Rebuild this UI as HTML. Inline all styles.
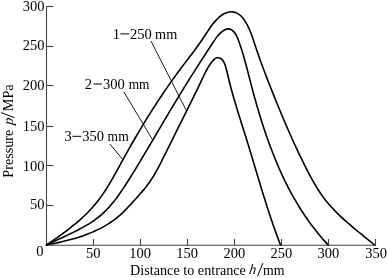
<!DOCTYPE html>
<html><head><meta charset="utf-8"><style>
html,body{margin:0;padding:0;background:#fff;}
body{width:388px;height:278px;position:relative;overflow:hidden;}
svg{position:absolute;left:0;top:0;will-change:transform;font-family:"Liberation Serif",serif;font-kerning:none;}
text{fill:#000;}
.ax{stroke:#444;stroke-width:1.1;fill:none;}
.cv{stroke:#000;stroke-width:1.6;fill:none;stroke-linejoin:round;stroke-linecap:round;}
.ld{stroke:#000;stroke-width:0.9;}
.dash{stroke:#000;stroke-width:1.0;}
.sl{stroke:#000;stroke-width:1.0;}
</style></head><body>
<svg width="388" height="278" viewBox="0 0 388 278">
<line x1="46.5" y1="6" x2="46.5" y2="245.8" class="ax"/>
<line x1="46" y1="245.3" x2="376" y2="245.3" class="ax"/>
<line x1="46.5" y1="205.50" x2="53.5" y2="205.50" class="ax"/>
<line x1="46.5" y1="165.50" x2="53.5" y2="165.50" class="ax"/>
<line x1="46.5" y1="126.50" x2="53.5" y2="126.50" class="ax"/>
<line x1="46.5" y1="85.50" x2="53.5" y2="85.50" class="ax"/>
<line x1="46.5" y1="46.50" x2="53.5" y2="46.50" class="ax"/>
<line x1="46.5" y1="6.50" x2="53.5" y2="6.50" class="ax"/>
<line x1="93.50" y1="245.30" x2="93.50" y2="239" class="ax"/>
<line x1="140.50" y1="245.30" x2="140.50" y2="239" class="ax"/>
<line x1="187.50" y1="245.30" x2="187.50" y2="239" class="ax"/>
<line x1="234.50" y1="245.30" x2="234.50" y2="239" class="ax"/>
<line x1="281.50" y1="245.30" x2="281.50" y2="239" class="ax"/>
<line x1="328.50" y1="245.30" x2="328.50" y2="239" class="ax"/>
<line x1="375.50" y1="245.30" x2="375.50" y2="239" class="ax"/>
<path d="M46.49 244.99 C47.83 244.08 49.17 243.16 50.50 242.24 C51.84 241.31 53.18 240.38 54.52 239.45 C55.86 238.51 57.19 237.57 58.52 236.62 C59.86 235.66 61.19 234.70 62.51 233.73 C63.83 232.76 65.15 231.78 66.46 230.79 C67.77 229.80 69.07 228.80 70.36 227.79 C71.65 226.78 72.93 225.75 74.20 224.71 C75.47 223.67 76.72 222.62 77.96 221.56 C79.20 220.49 80.43 219.41 81.64 218.31 C82.85 217.22 84.04 216.10 85.21 214.97 C86.38 213.85 87.54 212.70 88.67 211.53 C89.80 210.37 90.91 209.19 92.00 207.99 C93.08 206.78 94.15 205.56 95.18 204.32 C96.22 203.08 97.23 201.81 98.22 200.53 C99.20 199.25 100.17 197.95 101.11 196.63 C102.05 195.31 102.97 193.98 103.88 192.63 C104.78 191.28 105.67 189.92 106.54 188.54 C107.41 187.17 108.26 185.78 109.10 184.38 C109.95 182.98 110.77 181.57 111.59 180.16 C112.41 178.74 113.22 177.32 114.03 175.89 C114.83 174.46 115.63 173.03 116.42 171.59 C117.21 170.15 118.00 168.71 118.78 167.27 C119.57 165.83 120.36 164.39 121.14 162.94 C121.93 161.50 122.72 160.06 123.51 158.62 C124.30 157.19 125.09 155.75 125.89 154.32 C126.69 152.88 127.49 151.45 128.29 150.02 C129.10 148.60 129.91 147.17 130.72 145.75 C131.53 144.32 132.34 142.90 133.16 141.49 C133.98 140.07 134.80 138.65 135.62 137.24 C136.45 135.83 137.27 134.42 138.11 133.01 C138.94 131.60 139.77 130.20 140.61 128.80 C141.45 127.39 142.29 125.99 143.14 124.60 C143.99 123.20 144.84 121.81 145.69 120.42 C146.55 119.03 147.41 117.64 148.27 116.26 C149.13 114.87 150.00 113.49 150.87 112.11 C151.74 110.73 152.62 109.36 153.50 107.98 C154.38 106.61 155.26 105.24 156.15 103.87 C157.04 102.51 157.94 101.14 158.83 99.78 C159.73 98.42 160.63 97.07 161.54 95.71 C162.45 94.36 163.36 93.01 164.28 91.66 C165.20 90.31 166.12 88.97 167.04 87.63 C167.97 86.29 168.90 84.95 169.84 83.62 C170.78 82.28 171.72 80.95 172.66 79.62 C173.61 78.30 174.56 76.97 175.52 75.65 C176.48 74.33 177.44 73.02 178.41 71.70 C179.38 70.39 180.35 69.08 181.33 67.77 C182.31 66.47 183.29 65.17 184.28 63.86 C185.26 62.56 186.25 61.26 187.24 59.96 C188.23 58.66 189.22 57.36 190.20 56.06 C191.19 54.76 192.18 53.46 193.15 52.15 C194.13 50.84 195.11 49.53 196.07 48.22 C197.04 46.90 198.00 45.58 198.95 44.26 C199.90 42.93 200.84 41.59 201.77 40.25 C202.69 38.91 203.61 37.56 204.51 36.20 C205.41 34.84 206.29 33.46 207.18 32.10 C208.07 30.73 208.96 29.36 209.88 28.02 C210.81 26.68 211.75 25.36 212.75 24.07 C213.75 22.79 214.80 21.54 215.92 20.35 C217.04 19.15 218.23 18.01 219.51 16.94 C220.79 15.87 222.16 14.88 223.59 14.05 C225.02 13.23 226.52 12.57 228.05 12.18 C229.58 11.78 231.14 11.65 232.72 11.85 C234.29 12.06 235.86 12.59 237.32 13.35 C238.78 14.11 240.11 15.11 241.28 16.26 C242.45 17.41 243.48 18.71 244.41 20.09 C245.34 21.46 246.18 22.89 246.96 24.34 C247.73 25.78 248.45 27.25 249.11 28.74 C249.77 30.23 250.39 31.73 250.97 33.25 C251.55 34.77 252.09 36.30 252.62 37.84 C253.15 39.38 253.67 40.92 254.18 42.47 C254.69 44.02 255.20 45.57 255.71 47.11 C256.23 48.66 256.76 50.20 257.29 51.75 C257.82 53.29 258.36 54.83 258.90 56.37 C259.44 57.91 259.99 59.45 260.55 60.99 C261.10 62.53 261.66 64.07 262.22 65.60 C262.79 67.14 263.36 68.67 263.93 70.21 C264.50 71.74 265.08 73.27 265.66 74.80 C266.25 76.33 266.83 77.86 267.42 79.39 C268.01 80.92 268.61 82.44 269.20 83.97 C269.80 85.49 270.40 87.02 271.00 88.54 C271.61 90.06 272.21 91.58 272.82 93.10 C273.43 94.62 274.04 96.14 274.66 97.66 C275.27 99.18 275.89 100.69 276.50 102.21 C277.12 103.72 277.74 105.23 278.36 106.75 C278.99 108.26 279.61 109.77 280.24 111.28 C280.86 112.78 281.49 114.29 282.13 115.80 C282.76 117.30 283.40 118.81 284.03 120.31 C284.67 121.81 285.32 123.31 285.96 124.81 C286.61 126.31 287.26 127.81 287.91 129.30 C288.56 130.80 289.22 132.29 289.88 133.78 C290.54 135.28 291.20 136.77 291.87 138.25 C292.54 139.74 293.22 141.23 293.89 142.71 C294.57 144.20 295.25 145.68 295.94 147.16 C296.63 148.64 297.32 150.12 298.02 151.59 C298.72 153.07 299.42 154.54 300.13 156.02 C300.83 157.49 301.55 158.96 302.27 160.42 C302.99 161.89 303.71 163.36 304.44 164.82 C305.17 166.28 305.91 167.74 306.65 169.20 C307.40 170.66 308.15 172.11 308.91 173.56 C309.66 175.01 310.43 176.46 311.21 177.89 C312.00 179.33 312.79 180.76 313.60 182.18 C314.41 183.60 315.23 185.01 316.08 186.40 C316.92 187.80 317.78 189.18 318.66 190.55 C319.55 191.91 320.45 193.27 321.38 194.60 C322.31 195.93 323.26 197.25 324.24 198.54 C325.22 199.84 326.23 201.11 327.27 202.36 C328.30 203.61 329.36 204.85 330.45 206.06 C331.53 207.28 332.63 208.48 333.76 209.66 C334.89 210.84 336.03 212.00 337.19 213.15 C338.36 214.30 339.54 215.44 340.73 216.56 C341.93 217.69 343.14 218.80 344.36 219.90 C345.58 220.99 346.81 222.08 348.05 223.16 C349.29 224.24 350.54 225.31 351.80 226.37 C353.06 227.43 354.32 228.48 355.59 229.53 C356.85 230.58 358.12 231.62 359.39 232.66 C360.66 233.69 361.93 234.73 363.20 235.76 C364.47 236.79 365.74 237.81 367.00 238.84 C368.26 239.87 369.52 240.89 370.77 241.92 C372.02 242.95 373.26 243.97 374.49 245.00" class="cv"/>
<path d="M46.51 245.00 C47.80 244.35 49.11 243.71 50.43 243.08 C51.75 242.44 53.08 241.81 54.42 241.18 C55.76 240.55 57.11 239.93 58.47 239.30 C59.82 238.67 61.19 238.05 62.55 237.42 C63.91 236.79 65.28 236.16 66.64 235.52 C68.01 234.88 69.37 234.24 70.74 233.58 C72.10 232.93 73.46 232.27 74.81 231.60 C76.16 230.93 77.50 230.24 78.84 229.55 C80.18 228.85 81.50 228.14 82.81 227.41 C84.13 226.68 85.43 225.94 86.71 225.18 C88.00 224.41 89.27 223.63 90.52 222.83 C91.77 222.02 93.00 221.19 94.21 220.34 C95.42 219.49 96.61 218.61 97.77 217.71 C98.93 216.80 100.07 215.87 101.18 214.91 C102.30 213.95 103.38 212.95 104.44 211.93 C105.50 210.92 106.53 209.87 107.54 208.80 C108.56 207.73 109.55 206.64 110.52 205.53 C111.49 204.41 112.43 203.28 113.37 202.12 C114.30 200.97 115.21 199.80 116.11 198.61 C117.01 197.42 117.89 196.22 118.76 195.01 C119.63 193.79 120.48 192.56 121.33 191.32 C122.17 190.09 123.01 188.84 123.83 187.58 C124.66 186.33 125.48 185.07 126.29 183.80 C127.10 182.54 127.90 181.27 128.70 179.99 C129.50 178.72 130.29 177.45 131.08 176.18 C131.88 174.90 132.67 173.63 133.45 172.36 C134.24 171.08 135.02 169.81 135.80 168.53 C136.58 167.25 137.35 165.98 138.13 164.70 C138.90 163.42 139.67 162.14 140.44 160.87 C141.21 159.59 141.98 158.31 142.74 157.03 C143.51 155.75 144.27 154.47 145.03 153.19 C145.80 151.91 146.56 150.63 147.31 149.35 C148.07 148.07 148.83 146.79 149.59 145.51 C150.34 144.23 151.10 142.95 151.85 141.67 C152.61 140.39 153.36 139.11 154.12 137.83 C154.87 136.55 155.62 135.27 156.38 133.98 C157.13 132.70 157.88 131.42 158.63 130.14 C159.39 128.86 160.14 127.58 160.89 126.30 C161.65 125.02 162.40 123.74 163.16 122.46 C163.91 121.18 164.67 119.90 165.43 118.62 C166.18 117.34 166.94 116.07 167.70 114.79 C168.46 113.51 169.22 112.23 169.98 110.95 C170.75 109.68 171.51 108.40 172.28 107.12 C173.04 105.85 173.81 104.57 174.58 103.30 C175.35 102.02 176.12 100.75 176.90 99.48 C177.67 98.20 178.44 96.93 179.22 95.66 C180.00 94.38 180.78 93.11 181.56 91.84 C182.34 90.57 183.12 89.30 183.90 88.03 C184.69 86.76 185.47 85.50 186.26 84.23 C187.04 82.96 187.83 81.69 188.62 80.43 C189.41 79.16 190.21 77.90 191.00 76.64 C191.80 75.37 192.59 74.11 193.39 72.85 C194.19 71.59 194.98 70.33 195.79 69.07 C196.59 67.81 197.39 66.55 198.19 65.29 C199.00 64.03 199.80 62.78 200.61 61.52 C201.42 60.27 202.23 59.01 203.04 57.76 C203.85 56.51 204.66 55.26 205.48 54.01 C206.29 52.76 207.11 51.51 207.93 50.26 C208.74 49.01 209.56 47.77 210.38 46.52 C211.20 45.28 212.03 44.03 212.85 42.79 C213.68 41.55 214.50 40.31 215.35 39.09 C216.20 37.87 217.08 36.67 218.04 35.54 C219.00 34.41 220.03 33.33 221.17 32.35 C222.31 31.37 223.58 30.44 224.94 29.75 C226.30 29.07 227.73 28.67 229.12 28.89 C230.51 29.11 231.84 29.93 232.92 30.88 C234.01 31.82 234.90 32.96 235.67 34.23 C236.45 35.50 237.09 36.89 237.67 38.32 C238.26 39.76 238.78 41.23 239.30 42.69 C239.81 44.15 240.31 45.60 240.79 47.05 C241.26 48.50 241.73 49.95 242.17 51.39 C242.62 52.83 243.05 54.27 243.47 55.70 C243.89 57.14 244.30 58.57 244.69 60.00 C245.09 61.43 245.48 62.86 245.86 64.29 C246.25 65.72 246.62 67.14 246.99 68.57 C247.36 69.99 247.73 71.41 248.10 72.84 C248.46 74.26 248.83 75.68 249.19 77.11 C249.56 78.53 249.92 79.96 250.29 81.38 C250.66 82.81 251.04 84.23 251.41 85.66 C251.79 87.09 252.17 88.52 252.55 89.94 C252.93 91.37 253.32 92.80 253.71 94.23 C254.10 95.66 254.50 97.09 254.90 98.52 C255.29 99.95 255.70 101.38 256.10 102.81 C256.51 104.24 256.92 105.66 257.34 107.09 C257.75 108.52 258.17 109.95 258.60 111.38 C259.03 112.80 259.46 114.23 259.89 115.65 C260.33 117.08 260.77 118.50 261.21 119.93 C261.66 121.35 262.11 122.77 262.56 124.19 C263.02 125.61 263.48 127.03 263.95 128.45 C264.42 129.87 264.89 131.28 265.37 132.70 C265.85 134.11 266.33 135.52 266.83 136.93 C267.32 138.34 267.82 139.75 268.32 141.15 C268.82 142.56 269.34 143.96 269.85 145.36 C270.37 146.76 270.90 148.16 271.43 149.55 C271.96 150.95 272.50 152.34 273.04 153.73 C273.59 155.11 274.14 156.50 274.70 157.88 C275.26 159.26 275.83 160.64 276.40 162.02 C276.98 163.39 277.56 164.76 278.15 166.13 C278.74 167.50 279.34 168.86 279.95 170.22 C280.56 171.58 281.17 172.94 281.80 174.29 C282.42 175.64 283.05 176.98 283.69 178.33 C284.33 179.67 284.98 181.01 285.64 182.34 C286.30 183.67 286.97 185.00 287.65 186.32 C288.32 187.65 289.01 188.96 289.70 190.28 C290.40 191.59 291.10 192.90 291.82 194.20 C292.53 195.50 293.25 196.80 293.99 198.09 C294.72 199.38 295.47 200.66 296.22 201.94 C296.97 203.22 297.74 204.49 298.51 205.76 C299.28 207.03 300.07 208.29 300.86 209.54 C301.66 210.79 302.47 212.04 303.28 213.28 C304.10 214.52 304.93 215.76 305.76 216.98 C306.60 218.21 307.45 219.43 308.31 220.64 C309.17 221.86 310.05 223.06 310.93 224.26 C311.81 225.46 312.71 226.65 313.62 227.83 C314.52 229.01 315.44 230.19 316.37 231.36 C317.31 232.52 318.25 233.68 319.20 234.84 C320.16 235.99 321.13 237.13 322.11 238.26 C323.09 239.40 324.08 240.53 325.09 241.64 C326.09 242.76 327.11 243.87 328.14 244.97" class="cv"/>
<path d="M46.50 244.99 C47.77 244.74 49.06 244.49 50.34 244.23 C51.62 243.98 52.90 243.71 54.19 243.45 C55.47 243.18 56.75 242.90 58.04 242.62 C59.32 242.34 60.60 242.05 61.88 241.75 C63.17 241.45 64.45 241.14 65.72 240.82 C67.00 240.51 68.28 240.18 69.55 239.84 C70.82 239.50 72.09 239.16 73.36 238.80 C74.62 238.44 75.88 238.06 77.14 237.68 C78.39 237.30 79.64 236.90 80.89 236.49 C82.13 236.08 83.37 235.65 84.60 235.21 C85.83 234.77 87.05 234.31 88.27 233.84 C89.49 233.37 90.69 232.88 91.89 232.38 C93.09 231.87 94.28 231.35 95.46 230.81 C96.64 230.27 97.82 229.71 98.98 229.14 C100.14 228.56 101.29 227.96 102.42 227.35 C103.56 226.73 104.69 226.09 105.80 225.43 C106.91 224.77 108.02 224.09 109.10 223.39 C110.19 222.69 111.27 221.96 112.33 221.21 C113.39 220.46 114.43 219.69 115.46 218.89 C116.49 218.10 117.51 217.28 118.50 216.43 C119.50 215.58 120.48 214.71 121.45 213.81 C122.42 212.91 123.37 212.00 124.31 211.06 C125.25 210.13 126.18 209.18 127.10 208.22 C128.02 207.25 128.92 206.28 129.82 205.30 C130.73 204.32 131.62 203.34 132.51 202.36 C133.40 201.37 134.28 200.39 135.16 199.41 C136.04 198.43 136.92 197.45 137.79 196.48 C138.66 195.51 139.53 194.54 140.39 193.56 C141.25 192.59 142.09 191.61 142.93 190.63 C143.76 189.64 144.59 188.65 145.39 187.64 C146.20 186.63 146.99 185.62 147.75 184.58 C148.52 183.55 149.27 182.49 150.00 181.43 C150.73 180.36 151.44 179.27 152.14 178.18 C152.84 177.08 153.52 175.97 154.18 174.85 C154.85 173.73 155.50 172.60 156.15 171.46 C156.79 170.32 157.42 169.17 158.04 168.01 C158.66 166.85 159.28 165.69 159.88 164.52 C160.49 163.35 161.09 162.18 161.68 161.00 C162.28 159.82 162.87 158.64 163.46 157.46 C164.05 156.28 164.63 155.10 165.22 153.92 C165.81 152.73 166.39 151.55 166.98 150.37 C167.57 149.19 168.15 148.01 168.74 146.84 C169.33 145.66 169.91 144.48 170.50 143.31 C171.09 142.13 171.67 140.95 172.26 139.78 C172.85 138.60 173.43 137.43 174.02 136.26 C174.61 135.08 175.19 133.91 175.78 132.74 C176.36 131.57 176.95 130.39 177.53 129.22 C178.12 128.05 178.71 126.88 179.29 125.71 C179.87 124.54 180.46 123.37 181.04 122.20 C181.63 121.03 182.21 119.86 182.79 118.69 C183.37 117.52 183.96 116.35 184.54 115.18 C185.12 114.01 185.70 112.85 186.28 111.68 C186.86 110.51 187.44 109.34 188.02 108.17 C188.60 107.00 189.18 105.83 189.75 104.66 C190.33 103.49 190.91 102.32 191.48 101.15 C192.06 99.98 192.63 98.82 193.21 97.64 C193.78 96.47 194.35 95.30 194.92 94.13 C195.49 92.96 196.06 91.79 196.63 90.62 C197.20 89.45 197.77 88.28 198.34 87.10 C198.90 85.93 199.47 84.76 200.03 83.58 C200.60 82.41 201.16 81.24 201.72 80.06 C202.29 78.88 202.85 77.71 203.40 76.53 C203.96 75.35 204.52 74.18 205.09 73.00 C205.66 71.83 206.25 70.66 206.87 69.50 C207.49 68.34 208.15 67.20 208.86 66.07 C209.58 64.94 210.35 63.82 211.19 62.73 C212.03 61.64 212.96 60.55 213.94 59.66 C214.93 58.77 215.98 58.09 217.07 57.81 C218.16 57.53 219.31 57.73 220.40 58.31 C221.49 58.90 222.46 59.84 223.21 60.94 C223.96 62.04 224.54 63.33 225.01 64.67 C225.49 66.01 225.87 67.40 226.23 68.75 C226.58 70.09 226.91 71.40 227.23 72.68 C227.54 73.97 227.83 75.23 228.13 76.48 C228.42 77.74 228.72 78.98 229.02 80.23 C229.32 81.47 229.63 82.72 229.95 83.97 C230.27 85.22 230.59 86.47 230.92 87.71 C231.25 88.96 231.59 90.21 231.93 91.46 C232.28 92.71 232.62 93.96 232.98 95.21 C233.33 96.46 233.69 97.71 234.05 98.96 C234.41 100.21 234.78 101.47 235.15 102.72 C235.52 103.97 235.90 105.22 236.28 106.47 C236.66 107.72 237.04 108.98 237.42 110.23 C237.81 111.48 238.19 112.73 238.58 113.99 C238.97 115.24 239.36 116.49 239.75 117.75 C240.15 119.00 240.54 120.26 240.94 121.51 C241.33 122.76 241.73 124.02 242.12 125.27 C242.52 126.53 242.92 127.78 243.31 129.03 C243.71 130.29 244.11 131.54 244.50 132.80 C244.90 134.05 245.29 135.31 245.68 136.56 C246.08 137.82 246.47 139.07 246.86 140.33 C247.25 141.58 247.64 142.84 248.02 144.09 C248.41 145.35 248.79 146.60 249.18 147.86 C249.56 149.11 249.94 150.37 250.32 151.62 C250.70 152.88 251.08 154.13 251.46 155.39 C251.84 156.64 252.22 157.90 252.59 159.15 C252.97 160.40 253.35 161.66 253.72 162.91 C254.10 164.17 254.47 165.42 254.85 166.67 C255.22 167.93 255.60 169.18 255.97 170.44 C256.35 171.69 256.72 172.94 257.10 174.19 C257.47 175.45 257.85 176.70 258.22 177.95 C258.60 179.20 258.97 180.45 259.35 181.71 C259.73 182.96 260.11 184.21 260.49 185.46 C260.87 186.71 261.25 187.96 261.63 189.21 C262.01 190.46 262.39 191.71 262.78 192.96 C263.16 194.20 263.55 195.45 263.93 196.70 C264.32 197.95 264.71 199.20 265.10 200.44 C265.49 201.69 265.89 202.93 266.28 204.18 C266.68 205.42 267.08 206.67 267.48 207.91 C267.88 209.16 268.28 210.40 268.69 211.64 C269.09 212.89 269.50 214.13 269.91 215.37 C270.32 216.61 270.74 217.85 271.16 219.09 C271.58 220.33 272.00 221.57 272.42 222.81 C272.85 224.05 273.27 225.28 273.71 226.52 C274.14 227.76 274.57 228.99 275.01 230.23 C275.45 231.46 275.90 232.70 276.35 233.93 C276.79 235.16 277.25 236.39 277.70 237.63 C278.16 238.86 278.62 240.09 279.09 241.32 C279.55 242.55 280.02 243.77 280.50 245.00" class="cv"/>
<line x1="151.00" y1="41.00" x2="186.30" y2="110.40" class="ld"/>
<line x1="123.80" y1="91.80" x2="152.20" y2="139.20" class="ld"/>
<line x1="109.90" y1="144.00" x2="122.40" y2="159.20" class="ld"/>
<text x="29.95" y="208.68" font-size="14.50">50</text>
<text x="22.70" y="171.18" font-size="14.50">100</text>
<text x="22.70" y="130.88" font-size="14.50">150</text>
<text x="22.70" y="90.13" font-size="14.50">200</text>
<text x="22.70" y="50.43" font-size="14.50">250</text>
<text x="22.70" y="11.33" font-size="14.50">300</text>
<text x="36.27" y="256.00" font-size="14.50">0</text>
<text x="86.10" y="257.70" font-size="14.50">50</text>
<text x="129.26" y="257.70" font-size="14.50">100</text>
<text x="176.26" y="257.70" font-size="14.50">150</text>
<text x="223.58" y="257.70" font-size="14.50">200</text>
<text x="270.58" y="257.70" font-size="14.50">250</text>
<text x="317.55" y="257.70" font-size="14.50">300</text>
<text x="365.35" y="257.70" font-size="14.50">350</text>
<text x="112.63" y="38.90" font-size="14.50">1</text>
<text x="130.06" y="38.90" font-size="14.50">250</text>
<text x="155.10" y="38.90" font-size="14.50" textLength="22.22" lengthAdjust="spacingAndGlyphs">mm</text>
<line x1="120.40" y1="33.90" x2="129.30" y2="33.90" class="dash"/>
<text x="84.86" y="89.00" font-size="14.50">2</text>
<text x="103.01" y="89.00" font-size="14.50">300</text>
<text x="128.72" y="89.00" font-size="14.50" textLength="20.79" lengthAdjust="spacingAndGlyphs">mm</text>
<line x1="93.60" y1="84.00" x2="102.10" y2="84.00" class="dash"/>
<text x="64.41" y="141.30" font-size="14.50">3</text>
<text x="82.21" y="141.30" font-size="14.50">350</text>
<text x="107.62" y="141.30" font-size="14.50" textLength="21.10" lengthAdjust="spacingAndGlyphs">mm</text>
<line x1="72.40" y1="136.30" x2="81.30" y2="136.30" class="dash"/>
<text x="130.09" y="274.50" font-size="14.20">Distance to entrance</text>
<text x="248.69" y="274.50" font-size="14.20" font-style="italic" transform="translate(248.69 274.50) skewX(-7.0) translate(-248.69 -274.50)">h</text>
<line x1="257.5" y1="276.3" x2="262.9" y2="263.1" class="sl"/>
<text x="263.01" y="274.50" font-size="14.20" textLength="21.51" lengthAdjust="spacingAndGlyphs">mm</text>
<text transform="translate(12.7 177.71) rotate(-90)" font-size="14.20">Pressure</text>
<text transform="translate(12.7 125.37) rotate(-90) skewX(-7)" font-size="14.20" font-style="italic">p</text>
<line x1="0.9" y1="112.6" x2="14.5" y2="117.7" class="sl"/>
<text transform="translate(12.7 111.21) rotate(-90)" font-size="14.20">MPa</text>
</svg>
</body></html>
